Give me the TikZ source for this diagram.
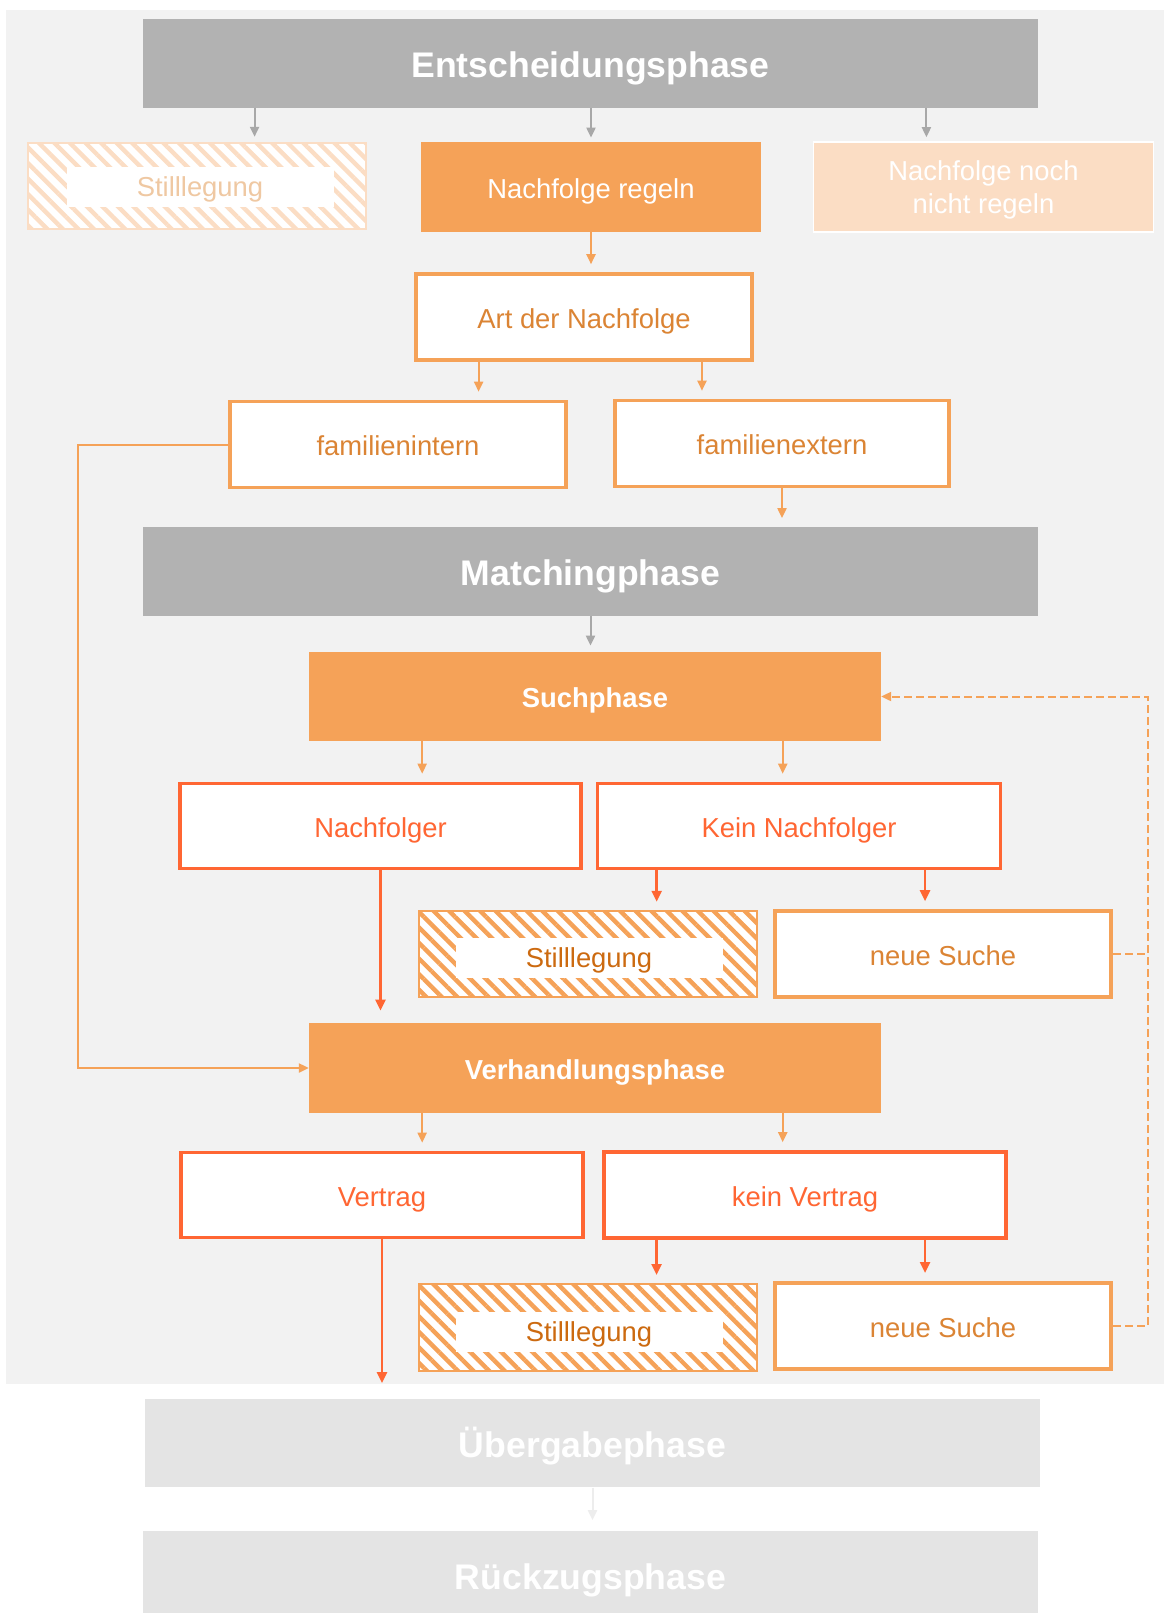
\documentclass[tikz,border=0pt]{standalone}
\usepackage{fontspec}
\setmainfont{Liberation Sans}
\usetikzlibrary{calc,patterns.meta,arrows.meta}

\definecolor{bggray}{HTML}{F2F2F2}
\definecolor{phasegray}{HTML}{B2B2B2}
\definecolor{fadegray}{HTML}{E4E4E4}
\definecolor{fadearrow}{HTML}{EDEDED}
\definecolor{arrowgray}{HTML}{A8A8A8}
\definecolor{orangefill}{HTML}{F5A258}
\definecolor{orangepale}{HTML}{FBDDC4}
\definecolor{orangetext}{HTML}{DB8434}
\definecolor{orangedark}{HTML}{CC6A10}
\definecolor{paletext}{HTML}{EFC8A2}
\definecolor{redorange}{HTML}{FF6633}

\newcommand{\boxfont}{\fontsize{13.7}{16.5}\selectfont}
\newcommand{\phasefont}{\fontsize{17.8}{20}\selectfont\bfseries}

\tikzset{
	phase/.style={fill=phasegray, text=white, font=\phasefont, text height=14pt, text depth=0pt, minimum width=447.5pt, minimum height=44.5pt, inner sep=0pt},
	boxtext/.style={font=\boxfont, text height=11pt, text depth=0pt},
	solidbox/.style={fill=orangefill, text=white, boxtext, minimum width=170pt, minimum height=45pt, inner sep=0pt},
	orangebox/.style={draw=orangefill, line width=1.8pt, fill=white, text=orangetext, boxtext, minimum width=168.2pt, minimum height=43pt, inner sep=0pt},
	redbox/.style={draw=redorange, line width=1.8pt, fill=white, text=redorange, boxtext, minimum width=201pt, minimum height=42.5pt, inner sep=0pt},
	hatchbox/.style={draw=#1, line width=1.2pt, preaction={fill=white}, pattern={Lines[angle=-45,distance=5.5pt,line width=2.2pt]}, pattern color=#1, minimum width=168.8pt, minimum height=43pt, inner sep=0pt},
	hatchlabel/.style={fill=white, text=#1, font=\boxfont, text height=9.5pt, text depth=0pt, minimum width=133.5pt, minimum height=20pt, inner sep=0pt},
	garrow/.style={draw=arrowgray, line width=1pt, -{Triangle[width=4.5pt,length=5pt]}, shorten >=2pt},
	oarrow/.style={draw=orangefill, line width=1pt, -{Triangle[width=4.5pt,length=5pt]}, shorten >=4pt},
	rarrow/.style={draw=redorange, line width=1.2pt, -{Triangle[width=5pt,length=5.5pt]}, shorten >=4pt},
	dashline/.style={draw=orangefill, line width=1pt, dash pattern=on 4pt off 2pt}
}

\begin{document}
\begin{tikzpicture}[x=0.5pt, y=-0.5pt]
			%%%%% BACKGROUND %%%%%
			\useasboundingbox (0,0) rectangle (1164,1613);
			\fill[white] (0,0) rectangle (1164,1613);
			\fill[bggray] (6,10) rectangle (1164,1384);
			
			%%%%% ENTSCHEIDUNG %%%%%
			\node[phase] (ent) at (590.5,63) {Entscheidungsphase};
			
			\node[hatchbox=orangepale, minimum width=169pt] (stillA) at (197,186) {};
			\node[hatchlabel=paletext] (stillAtxt) at (200,187) {Stilllegung};
			\node[solidbox] (regeln) at (591,187) {Nachfolge regeln};
			\node[fill=orangepale, draw=white, line width=0.8pt, minimum width=170pt, minimum height=45pt, inner sep=0pt] (noch) at (983.5,187) {};
			\node[text=white, font=\boxfont, align=center] (nochtxt) at (983.5,190) {Nachfolge noch\\nicht regeln};
			
			\node[orangebox] (art) at (584,317) {Art der Nachfolge};
			\node[orangebox] (intern) at (398,444.5) {familienintern};
			\node[orangebox, minimum width=167.2pt] (extern) at (782,443.5) {familienextern};
			
			%%%%% MATCHING %%%%%
			\node[phase] (match) at (590.5,571) {Matchingphase};
			
			\node[solidbox, font=\boxfont\bfseries, minimum width=285.75pt, minimum height=44.5pt] (such) at (595,696.5) {Suchphase};
			\node[redbox, minimum width=200.7pt] (nf) at (380.5,826) {Nachfolger};
			\node[redbox, minimum width=201.5pt] (knf) at (799,826) {Kein Nachfolger};
			
			\node[hatchbox=orangefill] (stillB) at (588,954) {};
			\node[hatchlabel=orangedark] (stillBtxt) at (589,958) {Stilllegung};
			\node[orangebox] (neuA) at (943,954) {neue Suche};
			
			\node[solidbox, font=\boxfont\bfseries, minimum width=285.75pt] (verh) at (595,1068) {Verhandlungsphase};
			\node[redbox, minimum width=201.2pt] (vtr) at (382,1195) {Vertrag};
			\node[redbox, minimum height=43pt] (kvtr) at (805,1195) {kein Vertrag};
			
			\node[hatchbox=orangefill, minimum height=43.3pt] (stillC) at (588,1327.5) {};
			\node[hatchlabel=orangedark] (stillCtxt) at (589,1331.5) {Stilllegung};
			\node[orangebox, minimum height=43.2pt] (neuB) at (943,1326) {neue Suche};
			
			%%%%% AUSBLICK %%%%%
			\node[phase, fill=fadegray, minimum height=44.25pt] (ueb) at (592.5,1443) {Übergabephase};
			\node[phase, fill=fadegray] (rueck) at (590.5,1575) {Rückzugsphase};
			
			%%%%% ARROWS %%%%%
			\coordinate (e1) at ($(ent.south west)!0.125!(ent.south east)$);
			\coordinate (e3) at ($(ent.south west)!0.875!(ent.south east)$);
			\draw[garrow] (e1) -- (e1 |- stillA.north);
			\draw[garrow] (regeln.north |- ent.south) -- (regeln.north);
			\draw[garrow] (e3) -- (e3 |- noch.north);
			
			\draw[oarrow] (regeln.south) -- (regeln.south |- art.north);
			\coordinate (a1) at ($(art.south west)!0.19!(art.south east)$);
			\coordinate (a2) at ($(art.south west)!0.847!(art.south east)$);
			\draw[oarrow] (a1) -- (a1 |- intern.north);
			\draw[oarrow] (a2) -- (a2 |- extern.north);
			\draw[oarrow] (extern.south) -- (extern.south |- match.north);
			\draw[oarrow, shorten >=0pt] (intern.west) -- ++(-150,0) |- (verh.west);
			
			\draw[garrow, shorten >=3pt] (match.south) -- (match.south |- such.north);
			\coordinate (s1) at ($(such.south west)!0.198!(such.south east)$);
			\coordinate (s2) at ($(such.south west)!0.828!(such.south east)$);
			\draw[oarrow] (s1) -- (s1 |- nf.north);
			\draw[oarrow] (s2) -- (s2 |- knf.north);
			
			\draw[rarrow, shorten >=6pt] (nf.south) -- (nf.south |- verh.north);
			\coordinate (k1) at ($(knf.south west)!0.15!(knf.south east)$);
			\coordinate (k2) at ($(knf.south west)!0.81!(knf.south east)$);
			\draw[rarrow] (k1) -- (k1 |- stillB.north);
			\draw[rarrow] (k2) -- (k2 |- neuA.north);
			
			\coordinate (v1) at ($(verh.south west)!0.198!(verh.south east)$);
			\coordinate (v2) at ($(verh.south west)!0.828!(verh.south east)$);
			\draw[oarrow] (v1) -- (v1 |- vtr.north);
			\draw[oarrow] (v2) -- (v2 |- kvtr.north);
			
			\coordinate (kv1) at ($(kvtr.south west)!0.134!(kvtr.south east)$);
			\coordinate (kv2) at ($(kvtr.south west)!0.796!(kvtr.south east)$);
			\draw[rarrow] (kv1) -- (kv1 |- stillC.north);
			\draw[rarrow] (kv2) -- (kv2 |- neuB.north);
			
			\coordinate (vend) at (382,1383);
			\draw[rarrow, shorten >=0pt] (vtr.south) -- (vend);
			
			\draw[garrow, draw=fadearrow, shorten >=5pt] (ueb.south) -- (ueb.south |- rueck.north);
			
			%%%%% NEUE SUCHE LOOP %%%%%
			\draw[dashline] (neuA.east) -- ++(34.5,0);
			\draw[dashline, -{Triangle[width=4.5pt,length=5pt]}] (neuB.east) -- ++(34.5,0) |- (such.east);
			
\end{tikzpicture}
\end{document}
